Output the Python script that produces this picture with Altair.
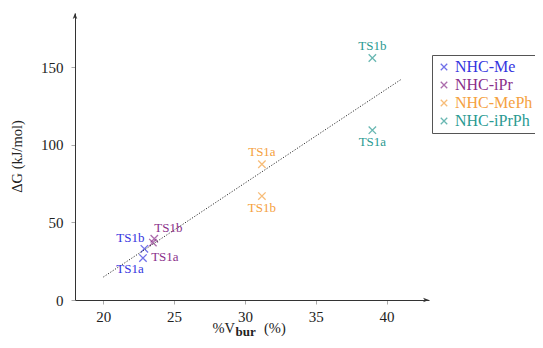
import altair as alt
import pandas as pd

# ---- data ----
groups = ["NHC-Me", "NHC-Me", "NHC-iPr", "NHC-iPr", "NHC-MePh", "NHC-MePh", "NHC-iPrPh", "NHC-iPrPh"]
states = ["TS1b", "TS1a", "TS1b", "TS1a", "TS1a", "TS1b", "TS1b", "TS1a"]
vbur = [22.9, 22.8, 23.6, 23.5, 31.2, 31.2, 39.0, 39.0]
dG = [33, 27, 39.5, 37, 87.5, 67, 156, 109.5]
label_pos = ["above left", "below left", "above right", "below right", "above", "below", "above", "below"]

trend_x = [20, 41]
trend_y = [14.8, 142]

series = ["NHC-Me", "NHC-iPr", "NHC-MePh", "NHC-iPrPh"]
colors = ["#3535e0", "#8a2f8a", "#f5a140", "#2a9a92"]

x_ticks = [20, 25, 30, 35, 40]
y_ticks = [0, 50, 100, 150]
x_range = [18, 43]
y_range = [0, 185]

FONT = "Liberation Serif"
CROSS = "M-1,-1L1,1M-1,1L1,-1"

df = pd.DataFrame({"group": groups, "state": states, "vbur": vbur, "dG": dG, "pos": label_pos})
trend = pd.DataFrame({"x": trend_x, "y": trend_y})

xs = alt.Scale(domain=x_range, nice=False, zero=False)
ys = alt.Scale(domain=y_range, nice=False, zero=False)

label_color_expr = " : ".join(
    [f"datum.value === '{s}' ? '{c}'" for s, c in zip(series, colors)]
) + " : 'black'"

color_enc = alt.Color(
    "group:N",
    scale=alt.Scale(domain=series, range=colors),
    legend=alt.Legend(
        title=None,
        orient="none",
        legendX=357,
        legendY=42,
        symbolType=CROSS,
        symbolSize=42,
        symbolStrokeWidth=1.3,
        symbolFillColor="transparent",
        labelFont=FONT,
        labelFontSize=16,
        labelOffset=3,
        labelColor=alt.ExprRef(expr=label_color_expr),
        rowPadding=2,
        padding=4,
        strokeColor="#555555",
        fillColor="white",
    ),
)

x_enc = alt.X(
    "vbur:Q",
    scale=xs,
    axis=alt.Axis(
        values=x_ticks,
        title=None,
        grid=False,
        domainColor="#333333",
        tickColor="#aaaaaa",
        tickSize=4,
        labelFont=FONT,
        labelFontSize=15,
        labelColor="#222222",
        labelPadding=5,
    ),
)
y_enc = alt.Y(
    "dG:Q",
    scale=ys,
    axis=alt.Axis(
        values=y_ticks,
        title="ΔG (kJ/mol)",
        titleFont=FONT,
        titleFontSize=14.5,
        titleFontWeight="normal",
        titleColor="#222222",
        titleX=-58,
        titleY=143,
        titleAngle=-90,
        titleBaseline="middle",
        titleAlign="center",
        grid=False,
        domainColor="#333333",
        tickColor="#aaaaaa",
        tickSize=4,
        labelFont=FONT,
        labelFontSize=15,
        labelColor="#222222",
        labelPadding=8,
    ),
)

base = alt.Chart(df)

points = base.mark_point(shape=CROSS, filled=False, size=55, strokeWidth=1.3).encode(
    x=x_enc, y=y_enc, color=color_enc
)

trend_line = alt.Chart(trend).mark_line(
    color="#333333", strokeDash=[1.2, 1.6], strokeWidth=1
).encode(x=alt.X("x:Q", scale=xs), y=alt.Y("y:Q", scale=ys))

offsets = {
    "above left": (-14, -11),
    "below left": (-13, 11),
    "above right": (14, -11),
    "below right": (12, 14),
    "above": (0, -12),
    "below": (0, 12),
}
label_layers = []
for p, (dx, dy) in offsets.items():
    label_layers.append(
        base.transform_filter(alt.datum.pos == p)
        .mark_text(font=FONT, fontSize=13, dx=dx, dy=dy, baseline="middle", align="center")
        .encode(
            x=alt.X("vbur:Q", scale=xs),
            y=alt.Y("dG:Q", scale=ys),
            text="state:N",
            color=alt.Color("group:N", scale=alt.Scale(domain=series, range=colors), legend=None),
        )
    )

# axis arrow heads
arrow_x = pd.DataFrame({"x": [x_range[1]], "y": [y_range[0]]})
arrow_y = pd.DataFrame({"x": [x_range[0]], "y": [y_range[1]]})
ax_arrow = alt.Chart(arrow_x).mark_point(
    shape="M0,0L-1.7,-0.65L-1.25,0L-1.7,0.65Z", filled=True, size=49, color="#333333", opacity=1
).encode(x=alt.X("x:Q", scale=xs), y=alt.Y("y:Q", scale=ys))
ay_arrow = alt.Chart(arrow_y).mark_point(
    shape="M0,0L-0.65,1.7L0,1.25L0.65,1.7Z", filled=True, size=49, color="#333333", opacity=1
).encode(x=alt.X("x:Q", scale=xs), y=alt.Y("y:Q", scale=ys))

# x-axis title with subscript, built from text pieces
title_parts = [
    ("%V", 137.5, 320, 14.5, "normal"),
    ("bur", 160.5, 323, 13, "bold"),
    ("(%)", 189, 320, 14.5, "normal"),
]
title_layers = []
for txt, tx, ty, fs, fw in title_parts:
    title_layers.append(
        alt.Chart(alt.Data(values=[{"t": txt}]))
        .mark_text(font=FONT, fontSize=fs, fontWeight=fw, align="left", baseline="alphabetic", color="#222222")
        .encode(x=alt.value(tx), y=alt.value(ty), text="t:N")
    )

chart = (
    alt.layer(points, trend_line, *label_layers, ax_arrow, ay_arrow, *title_layers)
    .properties(
        width=354,
        height=287,
        autosize=alt.AutoSizeParams(type="none"),
        padding={"left": 67, "top": 5, "right": 106, "bottom": 40},
    )
    .configure_view(stroke=None)
)

chart.save("out.html", embed_options={"renderer": "svg", "actions": False})
